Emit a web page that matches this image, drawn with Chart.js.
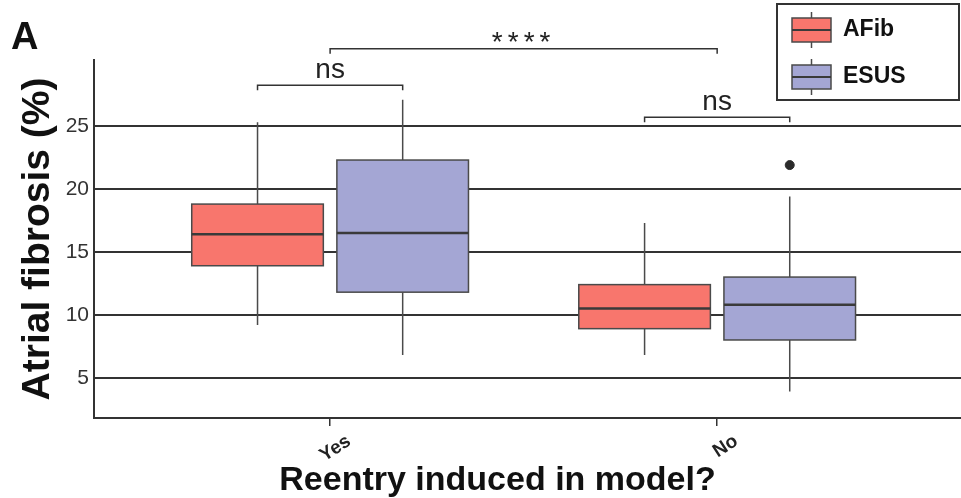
<!DOCTYPE html>
<html>
<head>
<meta charset="utf-8">
<style>
  html, body { margin: 0; padding: 0; background: #fff; }
  #chart { display: block; }
</style>
</head>
<body>
<canvas id="chart" width="961" height="498"></canvas>

<script src="https://cdn.jsdelivr.net/npm/chart.js"></script>

<script>
  // x categories and the two groups
  const categories = ['Yes', 'No'];
  const seriesNames = ['AFib', 'ESUS'];
  const seriesColors = ['#f8766d', '#a4a6d4'];

  // box statistics, one value per category
  const afibLow = [9.2, 6.8];
  const afibQ1 = [13.9, 8.9];
  const afibMedian = [16.4, 10.5];
  const afibQ3 = [18.8, 12.4];
  const afibHigh = [25.3, 17.3];
  const afibOutliers = [[], []];

  const esusLow = [6.8, 3.9];
  const esusQ1 = [11.8, 8.0];
  const esusMedian = [16.5, 10.8];
  const esusQ3 = [22.3, 13.0];
  const esusHigh = [27.1, 19.4];
  const esusOutliers = [[], [21.9]];

  const yTicks = [5, 10, 15, 20, 25];

  // significance brackets (x in category units, y in %)
  const bracketLabels = ['ns', 'ns', '****'];
  const bracketFrom = [0.8125, 1.8125, 1];
  const bracketTo = [1.1875, 2.1875, 2];
  const bracketY = [28.25, 25.7, 31.15];

  const series = [
    { name: seriesNames[0], color: seriesColors[0], low: afibLow, q1: afibQ1, med: afibMedian, q3: afibQ3, high: afibHigh, out: afibOutliers },
    { name: seriesNames[1], color: seriesColors[1], low: esusLow, q1: esusQ1, med: esusMedian, q3: esusQ3, high: esusHigh, out: esusOutliers }
  ];

  const dodge = [-0.1875, 0.1875];
  const boxWidth = 0.34;
  const lineCol = '#333';

  Chart.defaults.font.family = "'Liberation Sans', Arial, sans-serif";

  // boxes, whiskers and medians drawn through the scales
  const boxPlugin = {
    id: 'boxes',
    beforeDatasetsDraw(chart) {
      const { ctx, scales: { x, y } } = chart;
      const half = (x.getPixelForValue(boxWidth) - x.getPixelForValue(0)) / 2;
      ctx.save();
      series.forEach((s, si) => {
        categories.forEach((c, ci) => {
          const cx = x.getPixelForValue(ci + 1 + dodge[si]);
          const yl = y.getPixelForValue(s.low[ci]);
          const y1 = y.getPixelForValue(s.q1[ci]);
          const ym = y.getPixelForValue(s.med[ci]);
          const y3 = y.getPixelForValue(s.q3[ci]);
          const yh = y.getPixelForValue(s.high[ci]);

          ctx.strokeStyle = '#4a4a4a';
          ctx.lineWidth = 1.5;
          ctx.beginPath();
          ctx.moveTo(cx, yh); ctx.lineTo(cx, y3);
          ctx.moveTo(cx, y1); ctx.lineTo(cx, yl);
          ctx.stroke();

          ctx.fillStyle = s.color;
          ctx.fillRect(cx - half, y3, half * 2, y1 - y3);
          ctx.strokeStyle = '#4a4a4a';
          ctx.lineWidth = 1.5;
          ctx.strokeRect(cx - half, y3, half * 2, y1 - y3);

          ctx.strokeStyle = '#3a3a3a';
          ctx.lineWidth = 2.5;
          ctx.beginPath();
          ctx.moveTo(cx - half, ym); ctx.lineTo(cx + half, ym);
          ctx.stroke();
        });
      });
      ctx.restore();
    },
    afterDraw(chart) {
      const { ctx, scales: { x, y } } = chart;
      ctx.save();

      // panel letter
      ctx.fillStyle = '#111';
      ctx.font = "bold 38px 'Liberation Sans', Arial, sans-serif";
      ctx.textAlign = 'left';
      ctx.textBaseline = 'alphabetic';
      ctx.fillText('A', 11, 49);

      // significance brackets
      const tip = 0.4;
      bracketLabels.forEach((lab, i) => {
        const x0 = x.getPixelForValue(bracketFrom[i]);
        const x1 = x.getPixelForValue(bracketTo[i]);
        const yb = y.getPixelForValue(bracketY[i]);
        const yt = y.getPixelForValue(bracketY[i] - tip);
        ctx.strokeStyle = lineCol;
        ctx.lineWidth = 1.5;
        ctx.beginPath();
        ctx.moveTo(x0, yt); ctx.lineTo(x0, yb); ctx.lineTo(x1, yb); ctx.lineTo(x1, yt);
        ctx.stroke();

        ctx.font = "28px 'Liberation Sans', Arial, sans-serif";
        ctx.letterSpacing = lab.includes('*') ? '5px' : '0px';
        ctx.fillStyle = '#222';
        ctx.textAlign = 'center';
        ctx.textBaseline = 'alphabetic';
        const m = ctx.measureText(lab);
        const inkBottom = yb - 7;
        ctx.fillText(lab, (x0 + x1) / 2, inkBottom - m.actualBoundingBoxDescent);
      });
      ctx.letterSpacing = '0px';

      // legend
      const lx = 777, ly = 4, lw = chart.width - 2 - lx, lh = 96;
      ctx.strokeStyle = lineCol;
      ctx.lineWidth = 2;
      ctx.strokeRect(lx, ly, lw, lh);
      series.forEach((s, i) => {
        const cy = 30 + i * 47;
        const kx = 792, kw = 39, kc = kx + kw / 2;
        ctx.strokeStyle = '#4a4a4a';
        ctx.lineWidth = 1.5;
        ctx.beginPath();
        ctx.moveTo(kc, cy - 18); ctx.lineTo(kc, cy + 18);
        ctx.stroke();
        ctx.fillStyle = s.color;
        ctx.fillRect(kx, cy - 12, kw, 24);
        ctx.strokeRect(kx, cy - 12, kw, 24);
        ctx.strokeStyle = '#3a3a3a';
        ctx.lineWidth = 2;
        ctx.beginPath();
        ctx.moveTo(kx, cy); ctx.lineTo(kx + kw, cy);
        ctx.stroke();
        ctx.fillStyle = '#111';
        ctx.font = "bold 23px 'Liberation Sans', Arial, sans-serif";
        ctx.textAlign = 'left';
        ctx.textBaseline = 'middle';
        ctx.fillText(s.name, 843, cy);
      });
      ctx.restore();
    }
  };

  const outlierData = series.map((s, si) =>
    s.out.flatMap((vals, ci) => vals.map(v => ({ x: ci + 1 + dodge[si], y: v })))
  );

  new Chart(document.getElementById('chart'), {
    type: 'scatter',
    data: {
      datasets: series.map((s, si) => ({
        label: s.name,
        data: outlierData[si],
        pointRadius: 4.5,
        pointBackgroundColor: '#2b2b2b',
        pointBorderColor: '#2b2b2b'
      }))
    },
    options: {
      responsive: false,
      animation: false,
      layout: { autoPadding: false, padding: { left: 34, top: 60, right: 0, bottom: 0 } },
      plugins: {
        legend: { display: false },
        tooltip: { enabled: false },
        title: {
          display: true,
          position: 'bottom',
          text: 'Reentry induced in model?',
          color: '#111',
          font: { size: 34, weight: 'bold', lineHeight: 1 },
          padding: 0
        }
      },
      scales: {
        x: {
          type: 'linear',
          min: 0.39,
          max: 2.63,
          afterBuildTicks: s => { s.ticks = categories.map((c, i) => ({ value: i + 1 })); },
          afterFit: s => { s.height = 46; s.paddingLeft = 0; s.paddingRight = 0; },
          grid: { drawOnChartArea: false, drawTicks: true, tickLength: 8, color: lineCol, lineWidth: 1.5 },
          border: { display: true, color: lineCol, width: 2 },
          ticks: {
            autoSkip: false,
            minRotation: 33,
            maxRotation: 33,
            labelOffset: 19,
            padding: 4,
            color: '#222',
            font: { size: 19, weight: 'bold' },
            callback: v => categories[v - 1]
          }
        },
        y: {
          min: 1.8,
          max: 30.25,
          afterBuildTicks: s => { s.ticks = yTicks.map(v => ({ value: v })); },
          afterFit: s => { s.width = 60; s.paddingTop = 0; s.paddingBottom = 0; },
          grid: { color: lineCol, lineWidth: 2, drawTicks: false },
          border: { display: true, color: lineCol, width: 2 },
          ticks: { padding: 5, color: '#333', font: { size: 21 } },
          title: {
            display: true,
            text: 'Atrial fibrosis (%)',
            color: '#111',
            font: { size: 39, weight: 'bold', lineHeight: 1 },
            padding: { top: -15, bottom: 0 }
          }
        }
      }
    },
    plugins: [boxPlugin]
  });
</script>
</body>
</html>
